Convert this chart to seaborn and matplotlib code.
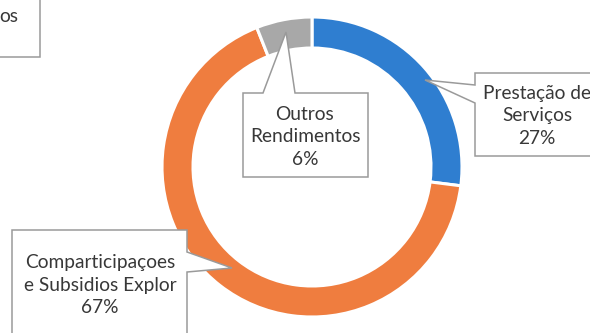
import matplotlib
matplotlib.use("Agg")
import matplotlib.pyplot as plt
from matplotlib.patches import Polygon, Rectangle
import seaborn as sns

# Revenue breakdown (share of total)
categories = ["Prestação de\nServiços", "Comparticipaçoes\ne Subsidios Explor", "Outros\nRendimentos"]
shares = [27, 67, 6]
pct_labels = ["27%", "67%", "6%"]
colors = ["#2F7ED0", "#EF7D3F", "#A8A8A8"]

W, H = 590, 333
sns.set_theme(style="white")
plt.rcParams["font.family"] = ["Lato", "DejaVu Sans"]

fig = plt.figure(figsize=(W / 100, H / 100), dpi=100)
ax = fig.add_axes([0, 0, 1, 1])

def P(x, y):
    """Layout point given in pixels from the top-left corner."""
    return (x, H - y)

# Donut ring
ax.pie(shares, colors=colors, startangle=90, counterclock=False,
       center=P(312, 167), radius=150,
       wedgeprops=dict(width=31, edgecolor="white", linewidth=2.2))

ax.set_xlim(0, W)
ax.set_ylim(0, H)
ax.set_aspect("equal")
ax.axis("off")

text_color = "#383838"
edge = "#9A9A9A"
fs = 13.8

def callout(pts, text, cx, cy):
    ax.add_patch(Polygon([P(*p) for p in pts], closed=True, facecolor="white",
                         edgecolor=edge, linewidth=1.1, zorder=5))
    ax.text(*P(cx, cy), text, ha="center", va="center", fontsize=fs,
            color=text_color, linespacing=1.42, zorder=6)

# Prestação de Serviços: box with pointer on its left side
callout([(475, 73), (600, 73), (600, 156), (475, 156), (475, 103),
         (425, 80), (475, 85)],
        f"{categories[0]}\n{pct_labels[0]}", 537, 116)

# Comparticipaçoes e Subsidios Explor: pointer on its right side
callout([(12, 230), (187, 230), (187, 252), (232, 268), (187, 272),
         (187, 340), (12, 340)],
        f"{categories[1]}\n{pct_labels[1]}", 100, 285)

# Outros Rendimentos: pointer on its top side
callout([(243, 93), (263, 93), (286, 32), (295, 93), (368, 93),
         (368, 177), (243, 177)],
        f"{categories[2]}\n{pct_labels[2]}", 305, 137)

# Partially visible title box at the top-left corner
ax.add_patch(Rectangle(P(-5, 57), 45, 62, facecolor="white", edgecolor=edge,
                       linewidth=1.1, zorder=5))
ax.text(*P(-1, 17), "os", ha="left", va="center", fontsize=fs,
        color=text_color, zorder=6)

fig.savefig("out.png", dpi=100)
